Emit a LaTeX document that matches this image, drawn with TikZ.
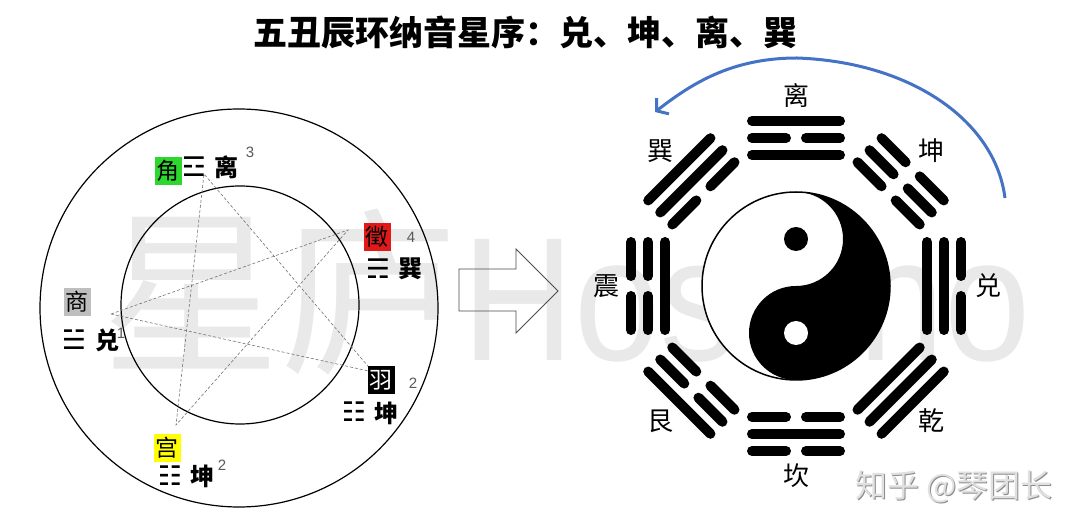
\documentclass[tikz,border=0pt]{standalone}
\usepackage{fontspec}
\usetikzlibrary{arrows.meta}
\newfontfamily\cjk{Noto Sans CJK SC}
\newfontfamily\symf{DejaVu Sans}
\newfontfamily\latf{Liberation Sans}
\definecolor{jiaogreen}{RGB}{45,215,45}
\definecolor{zhired}{RGB}{225,25,25}
\definecolor{shanggray}{RGB}{190,190,190}
\definecolor{gongyellow}{RGB}{255,255,0}
\definecolor{arrowblue}{RGB}{68,114,196}
\definecolor{wmgray}{RGB}{233,233,233}
\newcommand\trigline[2]{\ifnum#2=1 \draw[bar] (-44,#1) -- (44,#1);\else\draw[bar] (-44,#1) -- (-10,#1) (10,#1) -- (44,#1);\fi}
\newcommand\trigram[4]{\begin{scope}[shift={(796,244)},rotate=#1-90]\trigline{131}{#2}\trigline{148}{#3}\trigline{165}{#4}\end{scope}}
\begin{document}
\begin{tikzpicture}[x=1pt,y=1pt,
  bar/.style={line width=10pt,line cap=round,black},
  tone/.style={inner sep=0pt,minimum width=27pt,minimum height=28pt,font=\cjk\fontsize{23}{23}\selectfont},
  gua/.style={inner sep=0pt,font=\cjk\bfseries\fontsize{24}{24}\selectfont},
  gsym/.style={inner sep=0pt,font=\symf\bfseries\fontsize{27}{27}\selectfont},
  num/.style={inner sep=0pt,text=black!65,font=\latf\fontsize{15}{15}\selectfont},
  blabel/.style={inner sep=0pt,font=\cjk\fontsize{26}{26}\selectfont},
  star/.style={draw=black!55,line width=0.6pt,dash pattern=on 3pt off 2pt}]
\useasboundingbox (0,0) rectangle (1080,530);
\fill[white] (0,0) rectangle (1080,530);
% watermark
\node[anchor=west,inner sep=0pt,text=wmgray] (wm1) at (102,238) {\cjk\fontsize{178}{178}\selectfont 星庐};
\node[anchor=west,inner sep=0pt,text=wmgray,xscale=0.88] (wm2) at (462,232) {\latf\fontsize{176}{176}\selectfont Hoshino};
% title
\node[inner sep=0pt,font=\cjk\bfseries\fontsize{34}{34}\selectfont] (title) at (525,497) {五丑辰环纳音星序：兑、坤、离、巽};
% left diagram
\node[draw,line width=1.2pt,circle,minimum size=398pt,inner sep=0pt] (outer) at (239,222) {};
\node[draw,line width=1.2pt,circle,minimum size=238pt,inner sep=0pt] (inner) at (240,225) {};
\coordinate (p1) at (111,216);
\coordinate (p3) at (204,356);
\coordinate (p4) at (348,300);
\coordinate (p2) at (373,158);
\coordinate (p5) at (176,105);
\draw[star] (p1) -- (p4) -- (p5) -- (p3) -- (p2) -- (p1);
\node[tone,fill=jiaogreen] (jiao) at (168,359) {角};
\node[gsym] (lisym) at (194,363) {☲};
\node[gua] (li) at (226,363) {离};
\node[num] (n3) at (250,378) {3};
\node[tone,fill=zhired] (zhi) at (377,293) {徵};
\node[num] (n4) at (411,293) {4};
\node[gsym] (xunsym) at (378,261) {☴};
\node[gua] (xun) at (410,261) {巽};
\node[tone,fill=shanggray] (shang) at (77,228) {商};
\node[gsym] (duisym) at (74,190) {☱};
\node[gua] (dui) at (107,190) {兑};
\node[num] (n1) at (121,197) {1};
\node[tone,fill=black,text=white] (yu) at (381,150) {羽};
\node[num] (n2a) at (413,147) {2};
\node[gsym] (kunsymA) at (354,118) {☷};
\node[gua] (kunA) at (386,117) {坤};
\node[tone,fill=gongyellow] (gong) at (167,82) {宫};
\node[gsym] (kunsymB) at (170,54) {☷};
\node[gua] (kunB) at (202,54) {坤};
\node[num] (n2b) at (222,65) {2};
% hollow arrow
\draw[draw=black!70,line width=0.8pt,line join=miter] (459,261) -- (516,261) -- (516,281) -- (558,239) -- (516,197) -- (516,219) -- (459,219) -- cycle;
% bagua
\trigram{90}{1}{0}{1}
\trigram{45}{0}{0}{0}
\trigram{0}{1}{1}{0}
\trigram{-45}{1}{1}{1}
\trigram{-90}{0}{1}{0}
\trigram{-135}{0}{0}{1}
\trigram{180}{1}{0}{0}
\trigram{135}{0}{1}{1}
\begin{scope}[shift={(796,244)}]
\fill[white] (0,0) circle[radius=94];
\fill[black] (0,94) arc[start angle=90,end angle=-90,radius=94] arc[start angle=-90,end angle=-270,radius=47] arc[start angle=-90,end angle=90,radius=47] -- cycle;
\draw[line width=1.5pt] (0,0) circle[radius=94];
\fill[black] (0,47) circle[radius=12];
\fill[white] (0,-47) circle[radius=12];
\node[blabel] (lbli) at (90:190) {离};
\node[blabel] (lbkun) at (45:191) {坤};
\node[blabel] (lbdui) at (0:192) {兑};
\node[blabel] (lbqian) at (-45:191) {乾};
\node[blabel] (lbkan) at (-90:190) {坎};
\node[blabel] (lbgen) at (-135:191) {艮};
\node[blabel] (lbzhen) at (180:190) {震};
\node[blabel] (lbxun) at (135:191) {巽};
\end{scope}
% blue arrow
\coordinate (bs) at (1005,332);
\coordinate (bp) at (797,472);
\coordinate (be) at (655,418);
\draw[arrowblue,line width=3pt,-{Straight Barb[length=8pt,width=20pt]}] (bs) .. controls (995,410) and (910,468) .. (bp) .. controls (730,472) and (690,445) .. (be);
% zhihu watermark
\node[inner sep=0pt,anchor=west,text=black!45,font=\cjk\fontsize{32}{32}\selectfont] (zhs) at (856,42) {知乎 @琴团长};
\node[inner sep=0pt,anchor=west,text=black!12,font=\cjk\fontsize{32}{32}\selectfont] (zh) at (855,43) {知乎 @琴团长};
\end{tikzpicture}
\end{document}
